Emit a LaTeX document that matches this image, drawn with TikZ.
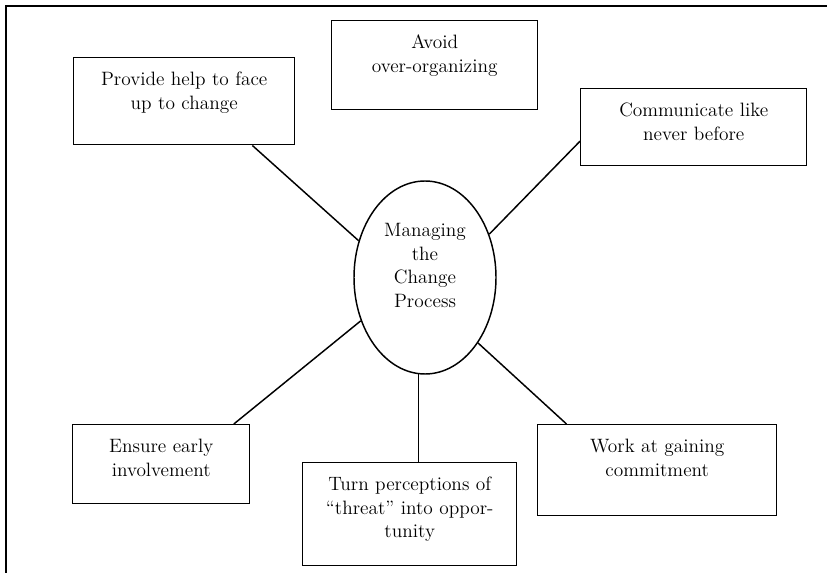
\documentclass[tikz,border=0pt]{standalone}
\usepackage{tikz}
\usetikzlibrary{shapes.geometric}
\tikzset{font=\fontsize{14.5}{17.6}\selectfont,
  box/.style={draw,line width=1.1pt,inner sep=0pt,align=center,text height=21pt,anchor=north west},
  hub/.style={draw,ellipse,line width=1.1pt,inner sep=0pt,align=center,text width=70pt,
    minimum width=106.5pt,minimum height=144.75pt,text height=10pt,text depth=70.8pt},
  link/.style={line width=1.1pt}}

\begin{document}
\begin{tikzpicture}[x=0.75pt,y=-0.75pt]
\useasboundingbox (0,0) rectangle (827,573);
\draw[line width=1.4pt] (6,573) -- (6,6) -- (827,6);

\node[hub] (hub) at (425,277.5) {Managing\\the\\Change\\Process};
\node[box,text width=165.75pt,text depth=44.25pt] (prov) at (73,57) {Provide help to face\\up to change};
\node[box,text width=154.5pt,text depth=45.75pt] (avoid) at (331,20) {Avoid\\over-organizing};
\node[box,text width=169.5pt,text depth=36.75pt] (comm) at (580,88) {Communicate like\\never before};
\node[box,text width=132.75pt,text depth=38.25pt] (ens) at (72,424) {Ensure early\\involvement};
\node[box,text width=160.5pt,text depth=56.25pt] (turn) at (302,462) {Turn perceptions of\\“threat” into oppor-\\tunity};
\node[box,text width=179.25pt,text depth=47.25pt] (work) at (537,424) {Work at gaining\\commitment};

\path[link] (prov.-33) edge (hub.151);
\path[link] (hub.34) edge (comm.187);
\path[link] (ens.29) edge (hub.214);
\path[link] (hub.266) edge (hub.266 |- turn.north);
\path[link] (hub.309) edge (work.153);

\end{tikzpicture}
\end{document}
